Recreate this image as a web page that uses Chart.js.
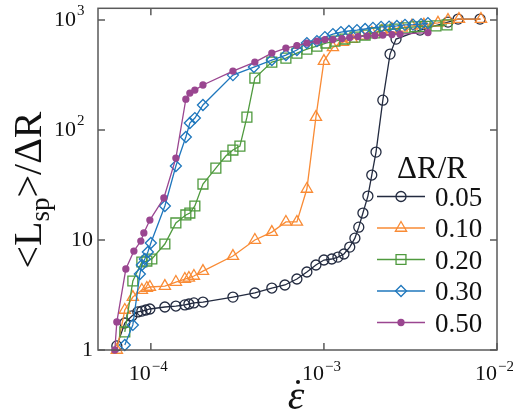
<!DOCTYPE html>
<html>
<head>
<meta charset="utf-8">
<script src="https://cdn.jsdelivr.net/npm/chart.js@4"></script>
<style>
html, body { margin: 0; padding: 0; background: #fff; }
canvas { display: block; }
</style>
</head>
<body>
<canvas id="chart" width="513" height="411"></canvas>
<script>
// strain rate (x) and <L_sp>/dR (y) for each dR/R value
const rate005 = [6.36e-5, 7.07e-5, 7.77e-5, 8.41e-5, 8.87e-5, 9.36e-5, 9.87e-5, 1.205e-4, 1.395e-4, 1.572e-4, 1.659e-4, 1.773e-4, 2.0e-4, 2.98e-4, 3.99e-4, 5.0e-4, 5.95e-4, 6.98e-4, 7.97e-4, 8.99e-4, 1.0e-3, 1.11e-3, 1.205e-3, 1.305e-3, 1.41e-3, 1.51e-3, 1.59e-3, 1.68e-3, 1.795e-3, 1.89e-3, 2.0e-3, 2.19e-3, 2.41e-3, 2.61e-3, 3.59e-3, 5.21e-3, 5.96e-3, 7.98e-3]
const len005 = [1.09, 1.76, 2.04, 2.22, 2.26, 2.31, 2.36, 2.46, 2.51, 2.57, 2.62, 2.68, 2.73, 3.03, 3.30, 3.66, 3.90, 4.42, 5.12, 5.93, 6.58, 6.72, 7.0, 7.46, 8.63, 10.4, 13.1, 17.6, 25.1, 39.0, 63.1, 187, 491, 672, 811, 959, 1021, 1021]

const rate010 = [6.36e-5, 7.07e-5, 7.87e-5, 8.87e-5, 9.48e-5, 9.87e-5, 1.205e-4, 1.395e-4, 1.572e-4, 1.659e-4, 1.773e-4, 2.0e-4, 2.98e-4, 3.99e-4, 5.0e-4, 6.03e-4, 6.98e-4, 7.97e-4, 8.99e-4, 1.0e-3, 1.127e-3, 1.288e-3, 1.45e-3, 1.66e-3, 1.89e-3, 2.16e-3, 2.47e-3, 2.82e-3, 3.22e-3, 3.78e-3, 4.56e-3, 5.21e-3, 6.03e-3, 8.08e-3]
const len010 = [1.0, 2.31, 3.03, 3.51, 3.66, 3.74, 3.81, 4.15, 4.42, 4.52, 4.71, 5.22, 7.15, 10.0, 11.8, 14.6, 14.6, 29.1, 131, 424, 565, 631, 672, 718, 764, 796, 830, 849, 885, 905, 943, 1000, 1021, 1021]

const rate020 = [7.07e-5, 7.87e-5, 8.87e-5, 9.48e-5, 1.013e-4, 1.205e-4, 1.395e-4, 1.593e-4, 1.68e-4, 1.796e-4, 2.0e-4, 2.375e-4, 2.71e-4, 2.98e-4, 3.27e-4, 3.59e-4, 3.99e-4, 5.0e-4, 6.03e-4, 6.98e-4, 7.97e-4, 9.11e-4, 1.027e-3, 1.158e-3, 1.322e-3, 1.51e-3, 1.73e-3, 1.97e-3, 2.25e-3, 2.57e-3, 2.94e-3, 3.36e-3, 3.84e-3, 4.44e-3, 5.14e-3]
const len020 = [1.46, 4.24, 6.31, 6.44, 6.72, 9.20, 14.3, 16.9, 17.6, 20.4, 32.3, 45.1, 58.0, 65.8, 71.5, 131, 297, 415, 451, 501, 545, 580, 618, 644, 672, 700, 731, 764, 811, 830, 849, 869, 877, 885, 905]

const rate030 = [7.07e-5, 7.87e-5, 8.64e-5, 8.87e-5, 9.23e-5, 9.61e-5, 1.0e-4, 1.205e-4, 1.395e-4, 1.593e-4, 1.68e-4, 1.796e-4, 2.0e-4, 2.98e-4, 3.94e-4, 5.0e-4, 6.03e-4, 6.98e-4, 7.97e-4, 9.11e-4, 1.013e-3, 1.127e-3, 1.254e-3, 1.395e-3, 1.552e-3, 1.73e-3, 1.92e-3, 2.14e-3, 2.38e-3, 2.64e-3, 2.94e-3, 3.27e-3, 3.64e-3, 3.99e-3]
const len030 = [1.11, 1.69, 4.91, 5.93, 6.72, 7.78, 9.39, 20.4, 47.1, 86.4, 116, 128.5, 169, 316, 374, 433, 481, 534, 618, 644, 700, 746, 778, 796, 811, 830, 849, 869, 873, 885, 905, 910, 919, 939]

const rate050 = [6.19e-5, 6.36e-5, 7.17e-5, 7.98e-5, 8.75e-5, 9.11e-5, 9.87e-5, 1.189e-4, 1.395e-4, 1.593e-4, 1.68e-4, 1.796e-4, 2.0e-4, 2.98e-4, 3.99e-4, 5.0e-4, 6.03e-4, 6.98e-4, 7.97e-4, 9.11e-4, 1.013e-3, 1.127e-3, 1.27e-3, 1.41e-3, 1.572e-3, 1.773e-3, 1.97e-3, 2.19e-3, 2.47e-3, 2.75e-3, 3.99e-3]
const len050 = [1.0, 1.80, 5.45, 7.94, 9.79, 11.6, 15.2, 24.1, 55.6, 191, 217, 231, 257, 344, 415, 501, 556, 587, 618, 644, 665, 665, 679, 693, 708, 715, 723, 731, 738, 746, 770]

const seriesLabels = ["0.05", "0.10", "0.20", "0.30", "0.50"]
const xTickValues = [1e-4, 1e-3, 1e-2]
const xTickExps = ["-4", "-3", "-2"]
const yTickValues = [1, 10, 100, 1000]
const yTickBases = ["1", "10", "10", "10"]
const yTickExps = ["", "", "2", "3"]

const SERIF = "\"Liberation Serif\""

const styles = [
    { color: "#232b40", marker: "circle", radius: 5, fill: false },
    { color: "#f98b35", marker: "triangle", radius: 6.5, fill: false },
    { color: "#4f9a3e", marker: "rect", radius: 7, fill: false },
    { color: "#1f77bd", marker: "rectRot", radius: 5.5, fill: false },
    { color: "#9a4690", marker: "circle", radius: 3, fill: true },
]
const seriesX = [rate005, rate010, rate020, rate030, rate050]
const seriesY = [len005, len010, len020, len030, len050]

const datasets = seriesLabels.map((label, i) => {
    const s = styles[i]
    return {
        label,
        data: seriesX[i].map((x, j) => ({ x, y: seriesY[i][j] })),
        showLine: true,
        tension: 0,
        borderColor: s.color,
        borderWidth: 1.3,
        pointStyle: s.marker,
        pointRadius: s.radius,
        pointBorderWidth: 1.3,
        pointBorderColor: s.color,
        pointBackgroundColor: s.fill ? s.color : "rgba(0,0,0,0)",
        clip: false,
        order: 5 - i,
    }
})

// own marker drawing for the legend
function drawMarker(ctx, style, x, y) {
    const r = style.radius
    ctx.beginPath()
    if (style.marker === "circle") {
        ctx.arc(x, y, r, 0, Math.PI * 2)
    } else if (style.marker === "triangle") {
        for (let k = 0; k < 3; k++) {
            const a = k * 2 * Math.PI / 3
            const px = x + Math.sin(a) * r
            const py = y - Math.cos(a) * r
            if (k === 0) ctx.moveTo(px, py)
            else ctx.lineTo(px, py)
        }
        ctx.closePath()
    } else if (style.marker === "rect") {
        const h = r * Math.SQRT1_2
        ctx.rect(x - h, y - h, 2 * h, 2 * h)
    } else {
        ctx.moveTo(x - r, y)
        ctx.lineTo(x, y - r)
        ctx.lineTo(x + r, y)
        ctx.lineTo(x, y + r)
        ctx.closePath()
    }
    if (style.fill) {
        ctx.fillStyle = style.color
        ctx.fill()
    }
    ctx.strokeStyle = style.color
    ctx.lineWidth = 1.3
    ctx.stroke()
}

const decor = {
    id: "decor",
    afterDatasetsDraw(chart) {
        const ctx = chart.ctx
        const a = chart.chartArea
        const xs = chart.scales.x
        const ys = chart.scales.y
        ctx.save()

        // frame and inward ticks on all four sides
        ctx.strokeStyle = "#5a5a5a"
        ctx.lineWidth = 1.5
        ctx.strokeRect(a.left, a.top, a.right - a.left, a.bottom - a.top)
        ctx.beginPath()
        xTickValues.forEach(v => {
            const px = xs.getPixelForValue(v)
            ctx.moveTo(px, a.bottom); ctx.lineTo(px, a.bottom - 7)
            ctx.moveTo(px, a.top); ctx.lineTo(px, a.top + 7)
        })
        yTickValues.forEach(v => {
            const py = ys.getPixelForValue(v)
            ctx.moveTo(a.left, py); ctx.lineTo(a.left + 7, py)
            ctx.moveTo(a.right, py); ctx.lineTo(a.right - 7, py)
        })
        ctx.stroke()

        ctx.fillStyle = "#111"
        ctx.textBaseline = "alphabetic"

        // x tick labels 10^n
        xTickValues.forEach((v, i) => {
            const px = xs.getPixelForValue(v)
            ctx.font = "22px " + SERIF
            ctx.textAlign = "right"
            ctx.fillText("10", px, a.bottom + 30)
            ctx.font = "15px " + SERIF
            ctx.textAlign = "left"
            ctx.fillText("\u2212" + xTickExps[i].slice(1), px + 1, a.bottom + 21)
        })

        // y tick labels
        yTickValues.forEach((v, i) => {
            const py = ys.getPixelForValue(v)
            ctx.font = "22px " + SERIF
            if (yTickExps[i]) {
                ctx.textAlign = "right"
                ctx.fillText(yTickBases[i], 76, py + 6)
                ctx.font = "15px " + SERIF
                ctx.textAlign = "left"
                ctx.fillText(yTickExps[i], 77, py - 5)
            } else {
                ctx.textAlign = "right"
                ctx.fillText(yTickBases[i], 93, py + 6)
            }
        })

        // y axis title <L_sp>/ΔR, rotated
        ctx.save()
        ctx.translate(41, 190)
        ctx.rotate(-Math.PI / 2)
        const parts = [["<L", 40, 0], ["sp", 27, 8], [">/\u0394R", 40, 0]]
        let total = 0
        parts.forEach(p => { ctx.font = p[1] + "px " + SERIF; total += ctx.measureText(p[0]).width })
        let cx = -total / 2
        ctx.textAlign = "left"
        parts.forEach(p => {
            ctx.font = p[1] + "px " + SERIF
            ctx.fillText(p[0], cx, p[2])
            cx += ctx.measureText(p[0]).width
        })
        ctx.restore()

        // x axis title: epsilon with a dot
        ctx.font = "italic 42px " + SERIF
        ctx.textAlign = "center"
        ctx.fillText("\u03b5", 296, 409)
        ctx.beginPath()
        ctx.arc(298, 382, 2, 0, Math.PI * 2)
        ctx.fill()

        // legend
        ctx.font = "31px " + SERIF
        ctx.textAlign = "center"
        ctx.fillText("\u0394R/R", 432, 178)
        seriesLabels.forEach((label, i) => {
            const y = 196.5 + i * 31.5
            const s = styles[i]
            ctx.beginPath()
            ctx.strokeStyle = s.color
            ctx.lineWidth = 1.3
            ctx.moveTo(377, y); ctx.lineTo(425, y)
            ctx.stroke()
            drawMarker(ctx, s, 401, y)
            ctx.fillStyle = "#111"
            ctx.font = "27px " + SERIF
            ctx.textAlign = "left"
            ctx.fillText(label, 435, y + 9)
        })
        ctx.restore()
    },
}

new Chart(document.getElementById("chart"), {
    type: "scatter",
    data: { datasets },
    options: {
        responsive: false,
        animation: false,
        layout: { padding: { left: 98, right: 16, top: 8, bottom: 61 } },
        scales: {
            x: { type: "logarithmic", min: 4.95e-5, max: 1e-2, display: false },
            y: { type: "logarithmic", min: 1, max: 1280, display: false },
        },
        plugins: {
            legend: { display: false },
            tooltip: { enabled: false },
        },
    },
    plugins: [decor],
})
</script>
</body>
</html>
